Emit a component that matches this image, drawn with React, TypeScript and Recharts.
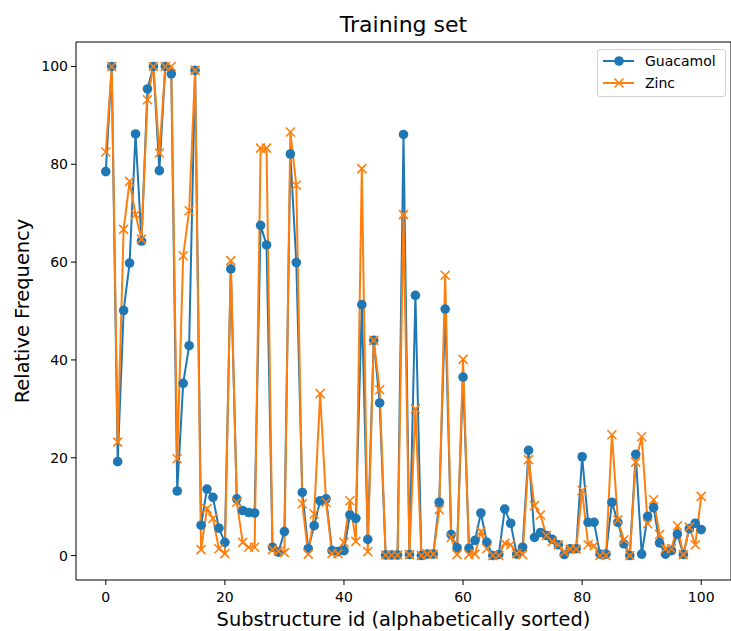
import React from 'react'
import { LineChart, Line, XAxis, YAxis, ReferenceArea } from 'recharts'

// relative frequency per substructure id (0..100)
const guacamol = [
  78.5, 100, 19.2, 50.1, 59.8, 86.2, 64.3, 95.4, 100, 78.7,
  100, 98.5, 13.2, 35.2, 42.9, 99.2, 6.2, 13.6, 11.9, 5.6,
  2.7, 58.6, 11.6, 9.2, 8.8, 8.7, 67.5, 63.5, 1.7, 0.7,
  4.9, 82.1, 59.9, 12.9, 1.4, 6.1, 11.2, 11.6, 1.0, 0.8,
  1.0, 8.3, 7.6, 51.3, 3.3, 44.0, 31.2, 0.1, 0.1, 0.1,
  86.1, 0.2, 53.2, 0, 0.3, 0.3, 10.9, 50.4, 4.3, 1.6,
  36.5, 1.5, 3.1, 8.7, 2.7, 0, 0.2, 9.5, 6.6, 0.3,
  1.7, 21.5, 3.7, 4.7, 4.1, 3.3, 2.2, 0.2, 1.4, 1.4,
  20.2, 6.8, 6.8, 0.3, 0.3, 10.9, 6.8, 2.4, 0, 20.7,
  0.3, 8.0, 9.8, 2.6, 0.3, 1.0, 4.4, 0.2, 5.5, 6.6,
  5.3,
]

const zinc = [
  82.5, 100, 23.2, 66.7, 76.5, 69.7, 64.7, 93.2, 100, 82.3,
  100, 100, 19.8, 61.3, 70.5, 99.2, 1.2, 9.6, 7.6, 1.4,
  0.4, 60.3, 10.9, 2.7, 1.7, 1.7, 83.3, 83.3, 1.2, 0.9,
  0.6, 86.6, 75.7, 10.6, 0.3, 8.5, 33.1, 10.9, 0.4, 0.4,
  2.7, 11.2, 2.9, 79.1, 0.8, 44.0, 33.9, 0.1, 0.1, 0.1,
  69.7, 0.2, 30.0, 0, 0.3, 0.3, 9.4, 57.3, 3.7, 0.2,
  40.1, 0.2, 0.3, 4.9, 1.4, 0, 0, 2.5, 2.2, 0.4,
  0.2, 19.6, 10.2, 8.3, 4.1, 2.9, 2.2, 0.7, 1.3, 1.3,
  13.3, 2.2, 2.0, 0, 0, 24.7, 7.3, 3.2, 0, 19.1,
  24.3, 6.5, 11.4, 4.3, 1.4, 1.4, 6.1, 0.2, 5.8, 2.2,
  12.1,
]

const xTicks = [0, 20, 40, 60, 80, 100]
const yTicks = [0, 20, 40, 60, 80, 100]

const BLUE = '#1f77b4'
const ORANGE = '#ff7f0e'
const FONT = '"DejaVu Sans", sans-serif'

const data = guacamol.map((g, i) => ({ id: i, Guacamol: g, Zinc: zinc[i] }))

const tickStyle = { fontSize: 14, fill: '#000', fontFamily: FONT }

function XMark(props: any) {
  const { cx, cy, key } = props
  if (cx == null || cy == null) return <g key={key} />
  const s = 4.5
  return (
    <path
      key={key}
      d={`M${cx - s},${cy - s}L${cx + s},${cy + s}M${cx - s},${cy + s}L${cx + s},${cy - s}`}
      stroke={ORANGE}
      strokeWidth={1.6}
      fill="none"
    />
  )
}

function LegendBox() {
  return (
    <div
      style={{
        position: 'absolute',
        left: 597,
        top: 49,
        width: 127,
        height: 46,
        border: '1px solid #d0d0d0',
        borderRadius: 3,
        background: 'rgba(255,255,255,0.8)',
        fontSize: 14,
        fontFamily: FONT,
      }}
    >
      <svg width={40} height={46} style={{ position: 'absolute', left: 0, top: 0 }}>
        <line x1={5} y1={11} x2={36} y2={11} stroke={BLUE} strokeWidth={2} />
        <circle cx={21} cy={11} r={4.8} fill={BLUE} />
        <line x1={5} y1={33} x2={36} y2={33} stroke={ORANGE} strokeWidth={2} />
        <path d="M16.5,28.5L25.5,37.5M16.5,37.5L25.5,28.5" stroke={ORANGE} strokeWidth={1.6} />
      </svg>
      <div style={{ position: 'absolute', left: 47, top: 1, lineHeight: '20px' }}>Guacamol</div>
      <div style={{ position: 'absolute', left: 47, top: 23, lineHeight: '20px' }}>Zinc</div>
    </div>
  )
}

export default function App() {
  return (
    <div style={{ position: 'relative', width: 731, height: 631, fontFamily: FONT, background: '#fff' }}>
      <style>{`body{margin:0}`}</style>
      <LineChart width={731} height={631} data={data} margin={{ top: 42, right: 0, left: 0, bottom: 0 }}>
        <XAxis
          dataKey="id"
          type="number"
          domain={[-5, 105]}
          ticks={xTicks}
          allowDataOverflow
          axisLine={false}
          tickLine={{ stroke: '#000' }}
          tickSize={5}
          tickMargin={7}
          height={51}
          tick={tickStyle}
        />
        <YAxis
          type="number"
          domain={[-5, 105]}
          ticks={yTicks}
          allowDataOverflow
          axisLine={false}
          tickLine={{ stroke: '#000' }}
          tickSize={5}
          tickMargin={3}
          width={76}
          tick={tickStyle}
        />
        <ReferenceArea x1={-5} x2={105} y1={-5} y2={105} fill="none" stroke="#000" strokeWidth={1} ifOverflow="visible" />
        <Line
          dataKey="Guacamol"
          stroke={BLUE}
          strokeWidth={2}
          dot={{ r: 4.8, fill: BLUE, stroke: BLUE, strokeWidth: 0 }}
          activeDot={false}
          isAnimationActive={false}
        />
        <Line
          dataKey="Zinc"
          stroke={ORANGE}
          strokeWidth={2}
          dot={XMark}
          activeDot={false}
          isAnimationActive={false}
        />
      </LineChart>
      <div style={{ position: 'absolute', left: 76, top: 12, width: 655, textAlign: 'center', fontSize: 22, lineHeight: '26px' }}>
        Training set
      </div>
      <div style={{ position: 'absolute', left: 76, top: 607, width: 655, textAlign: 'center', fontSize: 19.4, lineHeight: '26px' }}>
        Substructure id (alphabetically sorted)
      </div>
      <div
        style={{
          position: 'absolute',
          left: 23 - 150,
          top: 311 - 13,
          width: 300,
          textAlign: 'center',
          fontSize: 19.4,
          lineHeight: '26px',
          transform: 'rotate(-90deg)',
        }}
      >
        Relative Frequency
      </div>
      <LegendBox />
    </div>
  )
}
